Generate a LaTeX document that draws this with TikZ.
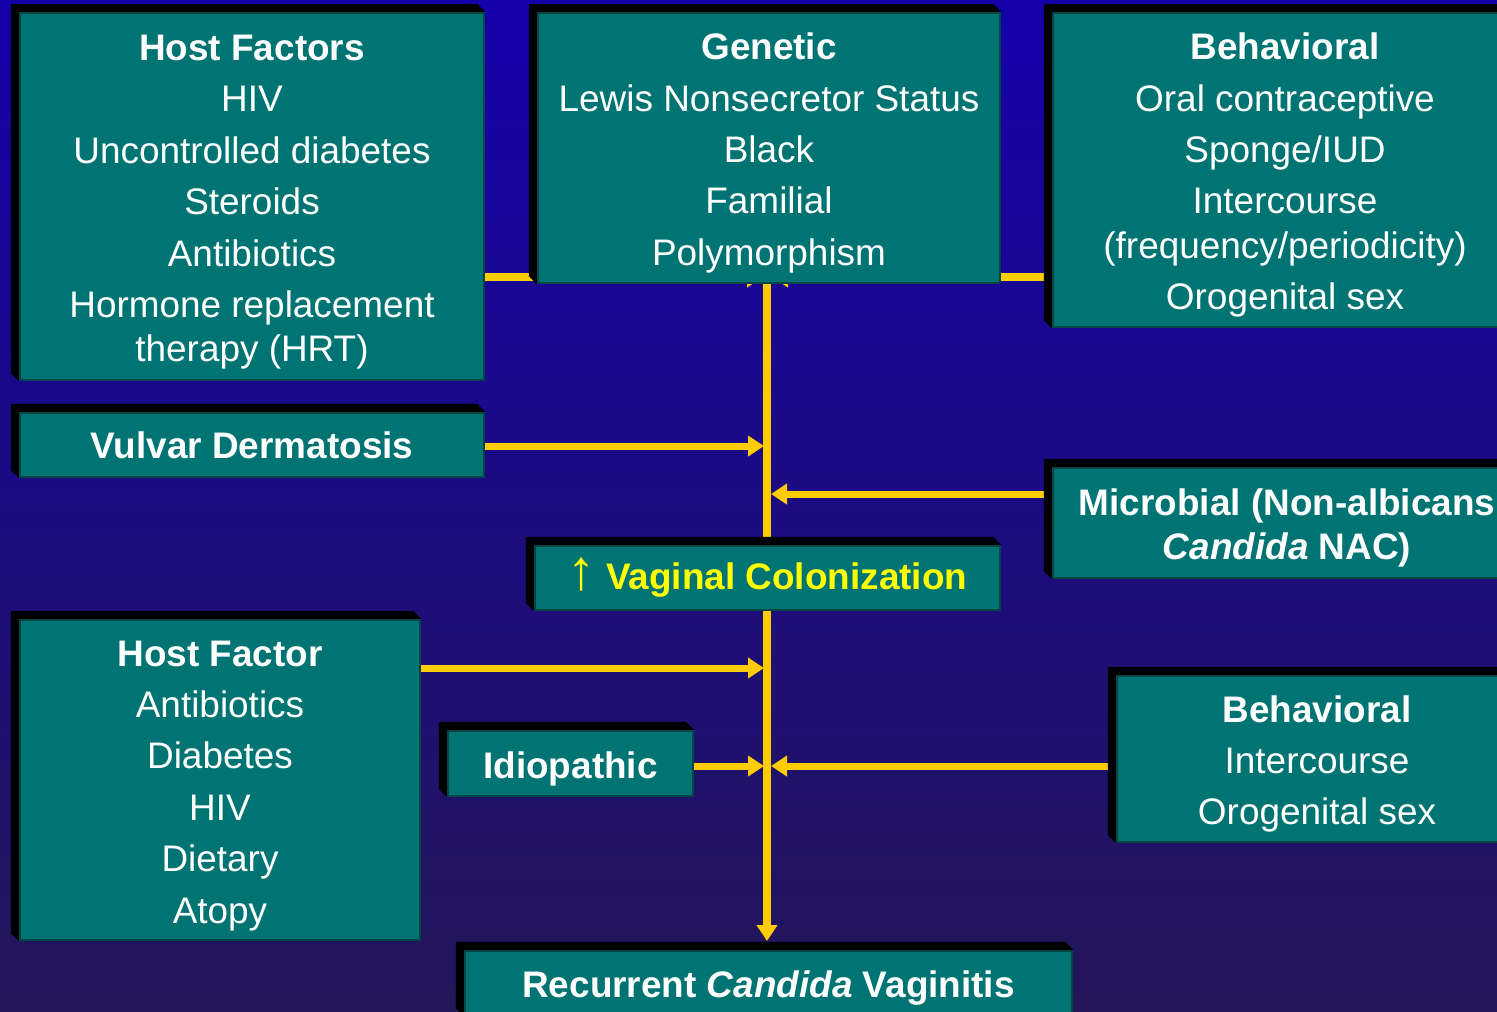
\documentclass[tikz,border=0pt]{standalone}
\usepackage{fontspec}
\setmainfont{Liberation Sans}
\usetikzlibrary{arrows.meta,backgrounds,calc}

\definecolor{tealface}{RGB}{0,116,114}
\definecolor{tealedge}{RGB}{0,70,70}
\definecolor{linkyellow}{RGB}{255,204,0}
\definecolor{bgtop}{RGB}{20,0,170}
\definecolor{bgbot}{RGB}{36,22,88}
\definecolor{vagyellow}{RGB}{255,255,0}

\newcommand{\topgap}{\rule{0pt}{1em}}

\tikzset{
  panel/.style={fill=tealface, draw=tealedge, line width=0.6pt, text=white, align=center,
    inner sep=0pt, font=\fontsize{10.5}{12.6}\selectfont},
  link/.style={linkyellow, line width=2pt},
  linkarrow/.style={link, -{Triangle[length=0.16cm, width=0.2cm]}},
}

\begin{document}
\begin{tikzpicture}[x=0.01cm, y=-0.01cm]
    \useasboundingbox (0,0) rectangle (1497,1011);
    % fond degrade
    \begin{scope}[on background layer]
        \shade[top color=bgtop, bottom color=bgbot] (0,0) rectangle (1497,1011);
    \end{scope}

    % cadres du haut
    \node[panel, minimum width=4.64cm, minimum height=3.67cm] (hostf) at (252,196.5)
        {\topgap\textbf{Host Factors}\\[2pt] HIV\\[2pt] Uncontrolled diabetes\\[2pt] Steroids\\[2pt]
         Antibiotics\\[2pt] Hormone replacement\\ therapy (HRT)};
    \node[panel, minimum width=4.62cm, minimum height=2.70cm] (genet) at (769,148)
        {\topgap\textbf{Genetic}\\[2pt] Lewis Nonsecretor Status\\[2pt] Black\\[2pt] Familial\\[2pt] Polymorphism};
    \node[panel, minimum width=4.64cm, minimum height=3.14cm] (behav) at (1285,170)
        {\topgap\textbf{Behavioral}\\[2pt] Oral contraceptive\\[2pt] Sponge/IUD\\[2pt] Intercourse\\
         (frequency/periodicity)\\[2pt] Orogenital sex};

    % cadres du milieu
    \node[panel, minimum width=4.64cm, minimum height=0.64cm] (vulvar) at (252,445)
        {\textbf{Vulvar Dermatosis}};
    \node[panel, minimum width=4.68cm, minimum height=1.10cm] (microb) at (1287,523)
        {\topgap\textbf{Microbial (Non-albicans}\\ \textbf{\textit{Candida} NAC)}};
    \node[panel, text=vagyellow, minimum width=4.65cm, minimum height=0.64cm] (vagcol) at (767.5,578)
        {{\fontsize{16}{16}\selectfont ↑} \textbf{Vaginal Colonization}};

    % cadres du bas
    \node[panel, minimum width=4.00cm, minimum height=3.20cm] (hostfb) at (220,780)
        {\topgap\textbf{Host Factor}\\[2pt] Antibiotics\\[2pt] Diabetes\\[2pt] HIV\\[2pt] Dietary\\[2pt] Atopy};
    \node[panel, minimum width=2.45cm, minimum height=0.65cm] (idio) at (570.5,763.5)
        {\topgap\textbf{Idiopathic}};
    \node[panel, minimum width=4.00cm, minimum height=1.66cm] (behavb) at (1317,759)
        {\topgap\textbf{Behavioral}\\[2pt] Intercourse\\[2pt] Orogenital sex};
    \node[panel, minimum width=6.07cm, minimum height=0.64cm] (recur) at (768.5,983)
        {\topgap\textbf{Recurrent \textit{Candida} Vaginitis}};

    % points sur le tronc
    \coordinate (jTop) at (767,277);
    \coordinate (jTopL) at (763,277);
    \coordinate (jTopR) at (772,277);
    \coordinate (jVul) at (764,446);
    \coordinate (jMic) at (771,494);
    \coordinate (jHost) at (764,668);
    \coordinate (jIdio) at (764,766);
    \coordinate (jBeh) at (771,766);
    \coordinate (jEnd) at (767,941);

    % liaisons
    \begin{scope}[on background layer]
        \draw[link] (jTop |- genet.south) -- (jTop |- vagcol.north);
        \draw[linkarrow] (jTop |- vagcol.south) -- (jEnd);
        \draw[linkarrow] (hostf.east |- jTopL) -- (jTopL);
        \draw[linkarrow] (behav.west |- jTopR) -- (jTopR);
        \draw[linkarrow] (vulvar.east |- jVul) -- (jVul);
        \draw[linkarrow] (microb.west |- jMic) -- (jMic);
        \draw[linkarrow] (hostfb.east |- jHost) -- (jHost);
        \draw[linkarrow] (idio.east |- jIdio) -- (jIdio);
        \draw[linkarrow] (behavb.west |- jBeh) -- (jBeh);
    \end{scope}

    % relief noir des cadres
    \begin{scope}[on background layer]
        \foreach \n in {hostf,genet,behav,vulvar,microb,vagcol,hostfb,idio,behavb,recur} {
            \fill[black] ($(\n.north west)+(-8,-8)$) -- ($(\n.north east)+(-8,-8)$) -- (\n.north east)
                -- (\n.south west) -- ($(\n.south west)+(-8,-8)$) -- cycle;
        }
    \end{scope}
\end{tikzpicture}
\end{document}
